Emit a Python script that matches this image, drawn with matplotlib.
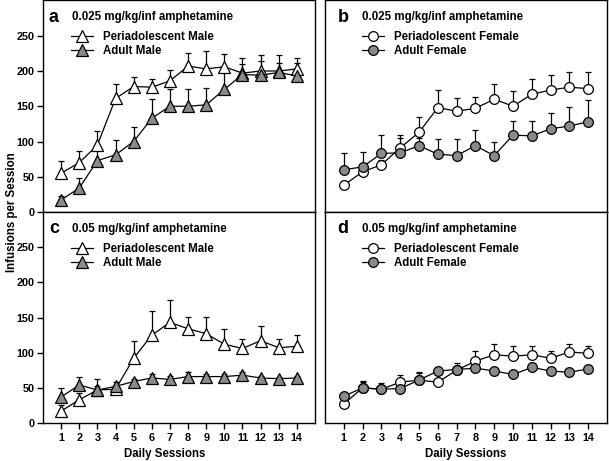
import numpy as np
import matplotlib
matplotlib.use("Agg")
import matplotlib.pyplot as plt

plt.rcParams['font.family'] = ['Liberation Sans', 'DejaVu Sans']
plt.rcParams['font.weight'] = 'bold'

sessions = list(range(1, 15))

# panel a: 0.025 mg/kg/inf, males
a_peri = [55, 70, 95, 161, 178, 177, 186, 207, 203, 206, 197, 200, 200, 203]
a_peri_sem = [17, 17, 20, 21, 14, 12, 15, 18, 25, 18, 21, 22, 22, 15]
a_adult = [17, 34, 73, 81, 100, 133, 150, 150, 152, 174, 195, 194, 198, 193]
a_adult_sem = [6, 14, 15, 21, 20, 27, 25, 24, 24, 30, 15, 20, 14, 19]

# panel b: 0.025 mg/kg/inf, females
b_peri = [38, 57, 67, 91, 113, 148, 143, 147, 160, 150, 167, 173, 177, 175]
b_peri_sem = [6, 7, 7, 18, 22, 25, 19, 16, 21, 22, 21, 21, 22, 24]
b_adult = [60, 64, 83, 84, 94, 82, 80, 94, 80, 109, 108, 118, 122, 128]
b_adult_sem = [24, 21, 26, 21, 11, 22, 24, 22, 20, 20, 21, 23, 27, 31]

# panel c: 0.05 mg/kg/inf, males
c_peri = [17, 33, 47, 48, 92, 125, 143, 134, 127, 112, 106, 117, 107, 109]
c_peri_sem = [8, 10, 5, 6, 25, 34, 32, 17, 24, 22, 14, 21, 12, 16]
c_adult = [37, 54, 47, 52, 59, 64, 62, 66, 66, 66, 68, 64, 63, 64]
c_adult_sem = [13, 12, 15, 7, 4, 5, 5, 6, 4, 4, 4, 3, 3, 3]

# panel d: 0.05 mg/kg/inf, females
d_peri = [27, 50, 48, 58, 61, 58, 75, 88, 97, 95, 97, 92, 101, 99]
d_peri_sem = [5, 10, 9, 10, 11, 5, 11, 15, 16, 14, 12, 10, 12, 10]
d_adult = [38, 50, 48, 49, 61, 74, 76, 78, 74, 69, 79, 74, 72, 77]
d_adult_sem = [5, 8, 5, 5, 10, 4, 5, 4, 3, 3, 6, 3, 3, 4]

yticks = [0, 50, 100, 150, 200, 250]
gray = '#8a8a8a'

fig = plt.figure(figsize=(6.09, 4.61), dpi=100)
W, H = 609.0, 461.0

def axes_px(x0, x1, ytop, ybot):
    return fig.add_axes([x0 / W, 1 - ybot / H, (x1 - x0) / W, (ybot - ytop) / H])

ax_a = axes_px(43, 315, 0.5, 212)
ax_c = axes_px(43, 315, 212, 423)
ax_b = axes_px(325, 607, 0.5, 212)
ax_d = axes_px(325, 607, 212, 423)

panels = [
    (ax_a, 'a', '0.025 mg/kg/inf amphetamine', '^', 'Male', a_peri, a_peri_sem, a_adult, a_adult_sem),
    (ax_b, 'b', '0.025 mg/kg/inf amphetamine', 'o', 'Female', b_peri, b_peri_sem, b_adult, b_adult_sem),
    (ax_c, 'c', '0.05 mg/kg/inf amphetamine', '^', 'Male', c_peri, c_peri_sem, c_adult, c_adult_sem),
    (ax_d, 'd', '0.05 mg/kg/inf amphetamine', 'o', 'Female', d_peri, d_peri_sem, d_adult, d_adult_sem),
]

for ax, letter, dose, mk, sex, peri, peri_sem, adult, adult_sem in panels:
    ms = 8.5 if mk == '^' else 7
    zeros = np.zeros(len(sessions))
    # upper-only error bars (SEM)
    ax.errorbar(sessions, peri, yerr=[zeros, peri_sem], fmt='none', ecolor='black',
                elinewidth=0.9, capsize=2.5, capthick=0.9, zorder=2)
    ax.errorbar(sessions, adult, yerr=[zeros, adult_sem], fmt='none', ecolor='black',
                elinewidth=0.9, capsize=2.5, capthick=0.9, zorder=2)
    h1, = ax.plot(sessions, peri, color='black', lw=0.9, marker=mk, ms=ms,
                  mfc='white', mec='black', mew=0.9, zorder=3,
                  label='Periadolescent ' + sex)
    h2, = ax.plot(sessions, adult, color='black', lw=0.9, marker=mk, ms=ms,
                  mfc=gray, mec='black', mew=0.9, zorder=4,
                  label='Adult ' + sex)

    ax.set_xlim(0, 15)
    ax.set_ylim(0, 300)
    for s in ax.spines.values():
        s.set_linewidth(1.0)

    left = ax in (ax_a, ax_c)
    lx = 0.022 if left else 0.045
    tx = 0.107 if left else 0.131
    ax.text(lx, 0.92, letter, transform=ax.transAxes, fontsize=13, fontweight='bold',
            va='center', ha='left')
    ax.text(tx, 0.92, dose, transform=ax.transAxes, fontsize=8.3, fontweight='bold',
            va='center', ha='left')
    hx = 0.103 if left else 0.131
    ax.legend(handles=[h1, h2], loc='upper left', bbox_to_anchor=(hx, 0.855),
              frameon=False, borderaxespad=0, borderpad=0,
              handlelength=1.9, handletextpad=0.9, labelspacing=0.2,
              prop={'weight': 'bold', 'size': 8.3})

    if left:
        ax.set_yticks(yticks)
        ax.tick_params(axis='y', direction='out', length=4, width=1, labelsize=7.8, pad=2)
    else:
        ax.set_yticks([])

    if ax in (ax_c, ax_d):
        ax.set_xticks(sessions)
        ax.tick_params(axis='x', direction='out', length=4, width=1, labelsize=7.8, pad=3)
        ax.set_xlabel('Daily Sessions', fontsize=8.3, fontweight='bold', labelpad=2)
    else:
        ax.set_xticks([])

ax_c.xaxis.set_label_coords(0.449, -0.12)
ax_d.xaxis.set_label_coords(0.5, -0.12)

fig.text(12 / W, 1 - 212 / H, 'Infusions per Session', rotation=90, fontsize=8.3,
         fontweight='bold', ha='center', va='center')

fig.savefig('out.png', dpi=100)
